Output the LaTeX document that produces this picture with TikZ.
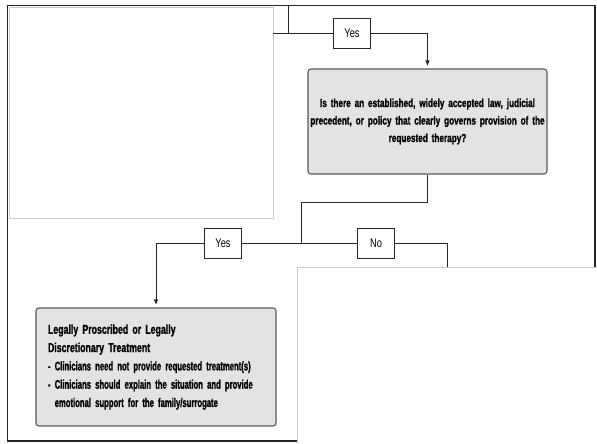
\documentclass[tikz,border=0pt]{standalone}
\usepackage{fontspec}
\setmainfont{Liberation Sans}
\newfontfamily\questfont{Liberation Sans}[FakeStretch=0.70,FakeBold=1.2]
\newfontfamily\outfont{Liberation Sans}[FakeStretch=0.615,FakeBold=1.2]
\newfontfamily\headfont{Liberation Sans}[FakeStretch=0.675,FakeBold=1.2]
\newfontfamily\tagfont{Liberation Sans}[FakeStretch=0.74]
\usetikzlibrary{arrows.meta}

\begin{document}
\begin{tikzpicture}[x=1pt,y=-1pt,
  panel/.style={draw=black!20, fill=white, line width=0.9pt},
  frame/.style={draw=black!85, line width=1.6pt},
  decision/.style={draw=black!65, fill=black!11, rounded corners=3pt, line width=1.1pt,
    align=center, text width=237pt, minimum width=239pt, minimum height=105pt, inner sep=0pt,
    font=\questfont\bfseries\fontsize{11.7}{17.5}\selectfont},
  outcome/.style={draw=black!65, fill=black!11, rounded corners=3pt, line width=1.1pt,
    align=left, text width=216pt, minimum height=118pt, inner xsep=12pt, inner ysep=0pt,
    font=\outfont\bfseries\fontsize{12.5}{18.3}\selectfont},
  tag/.style={draw=black!85, fill=white, line width=0.9pt, minimum width=37pt,
    minimum height=30pt, inner sep=0pt, font=\tagfont\fontsize{12.5}{14}\selectfont},
  link/.style={draw=black!85, line width=1pt},
  arr/.style={link, -{Triangle[length=5pt,width=4pt]}, shorten >=3pt}]

\useasboundingbox (0,0) rectangle (597,444);
\fill[white] (0,0) rectangle (597,444);

% blank panel at the top left, outer frame, blank panel at the bottom right
\draw[panel] (9,7) rectangle (273,218);
\draw[frame] (7.5,5.5) rectangle (595,441);
\draw[panel] (297,267) rectangle (600,447);

% decision and outcome boxes
\node[decision] (q) at (427.5,121.5)
  {\hyphenpenalty=10000 Is there an established, widely accepted law, judicial\\
   precedent, or policy that clearly governs provision of the\\
   requested therapy?};
\node[outcome] (o) at (156,367)
  {\hyphenpenalty=10000 {\headfont\bfseries\fontsize{13}{18.3}\selectfont Legally Proscribed or Legally\\
   Discretionary Treatment}\\
   - Clinicians need not provide requested treatment(s)\\
   - Clinicians should explain the situation and provide\\
   \phantom{- }emotional support for the family/surrogate};

% branch labels
\node[tag] (y1) at (352,33.5) {Yes};
\node[tag] (y2) at (223,243.5) {Yes};
\node[tag] (n)  at (376,243.5) {No};

% connector points
\coordinate (top)   at (288,5.5);
\coordinate (topj)  at (288,33.5);
\coordinate (inl)   at (273,33.5);
\coordinate (bend)  at (301,202);
\coordinate (split) at (301,243.5);
\coordinate (noend) at (447,267);

% connectors
\draw[link] (top) -- (topj);
\draw[link] (inl) -- (y1.west);
\draw[arr]  (y1.east) -| (q.north);
\draw[link] (q.south) |- (bend) -- (split);
\draw[link] (split) -- (y2.east);
\draw[arr]  (y2.west) -| (o.north);
\draw[link] (split) -- (n.west);
\draw[link] (n.east) -| (noend);
\end{tikzpicture}
\end{document}
